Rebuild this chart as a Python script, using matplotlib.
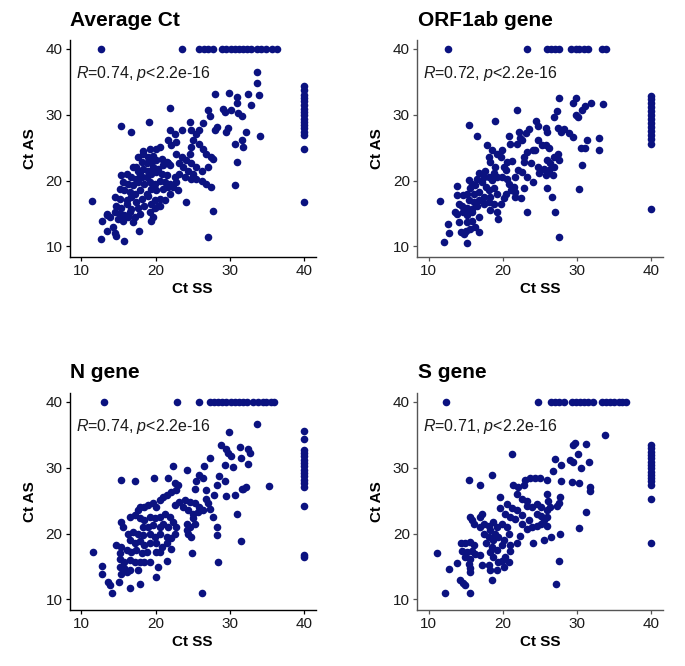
import numpy as np
import matplotlib.pyplot as plt

plt.rcParams['font.family'] = 'Liberation Sans'
plt.rcParams['mathtext.fontset'] = 'custom'
plt.rcParams['mathtext.rm'] = 'Liberation Sans'
plt.rcParams['mathtext.it'] = 'Liberation Sans:italic'

titles = ['Average Ct', 'ORF1ab gene', 'N gene', 'S gene']
r_values = ['0.74', '0.72', '0.74', '0.71']

# points with Ct AS = 40 (only Ct SS given)
avg_top = [12.6, 23.6, 25.9, 26.5, 27.1, 27.7, 29.0, 29.5, 30.1, 30.7, 31.2, 31.8, 32.3, 32.9, 33.6, 34.2, 34.9, 35.7, 36.4]
orf_top = [12.6, 23.2, 25.9, 26.5, 27.0, 27.6, 29.2, 29.8, 30.3, 30.9, 31.5, 33.3, 33.9]
n_top = [13.1, 22.9, 25.9, 27.3, 27.8, 28.4, 29.0, 29.5, 30.1, 30.7, 31.2, 31.8, 32.3, 33.1, 33.8, 34.4, 34.9, 35.5, 36.0]
s_top = [12.3, 24.8, 26.5, 27.0, 27.6, 28.2, 29.3, 29.8, 30.4, 31.0, 31.5, 32.1, 33.3, 33.9, 34.4, 35.0, 35.6, 36.1, 36.6]

# points with Ct SS = 40 (only Ct AS given)
avg_right = [34.4, 33.7, 33.0, 32.5, 32.0, 31.5, 30.9, 30.4, 29.9, 29.4, 28.9, 28.4, 27.9, 27.4, 26.9, 24.8, 16.7]
orf_right = [32.9, 32.3, 31.7, 31.1, 30.5, 29.9, 29.3, 28.7, 28.1, 27.5, 26.9, 26.3, 25.6, 15.7]
n_right = [35.5, 34.3, 32.7, 32.2, 31.7, 31.2, 30.7, 30.2, 29.7, 29.2, 28.7, 28.2, 27.7, 27.1, 24.2, 16.7, 16.4]
s_right = [33.5, 33.0, 32.4, 31.9, 31.4, 30.9, 30.4, 29.9, 29.4, 28.9, 28.4, 27.9, 27.3, 25.2, 18.6]

# (Ct SS, Ct AS) pairs
avg_pts = [
    (11.4, 16.9), (12.7, 11.1), (12.8, 13.8), (13.5, 15.0), (13.5, 12.4), (14.3, 12.9), (14.5, 12.1),
    (14.7, 11.6), (15.8, 10.9), (17.8, 12.4), (15.4, 28.3), (16.7, 27.4), (19.1, 28.9), (21.9, 31.0),
    (24.1, 16.8), (27.1, 11.5), (27.7, 15.4), (26.8, 19.5), (27.5, 19.0), (30.7, 19.4), (30.9, 22.8),
    (34.0, 26.8), (33.7, 36.5), (33.7, 34.8), (33.9, 33.0), (32.5, 33.1), (29.9, 33.3), (28.0, 33.1),
    (29.1, 30.9), (29.3, 30.4), (30.9, 32.7), (30.9, 31.7), (30.2, 30.7), (31.1, 30.2), (31.6, 29.8),
    (32.8, 31.5), (27.1, 30.7), (27.3, 29.8), (28.2, 28.2), (28.0, 27.6), (29.8, 27.9), (29.5, 27.4),
    (30.7, 25.6), (31.6, 26.1), (31.8, 25.1), (32.2, 27.4), (24.6, 28.9), (24.8, 27.6), (26.4, 28.7),
    (25.9, 27.6), (25.5, 27.1), (21.9, 27.6), (22.6, 27.1), (23.5, 27.7), (21.7, 26.1), (22.1, 25.4),
    (22.8, 25.9), (25.0, 26.1), (24.8, 25.1), (24.6, 24.1), (25.9, 25.6), (26.4, 24.8), (26.8, 24.1),
    (27.5, 23.6), (22.8, 24.1), (23.5, 23.6), (24.1, 23.1), (24.8, 22.6), (25.5, 22.0), (26.2, 21.5),
    (23.2, 22.6), (23.7, 22.0), (24.4, 21.5), (25.0, 21.0), (27.1, 22.0), (27.7, 23.3), (22.6, 20.5),
    (22.8, 19.8), (21.9, 22.3), (21.5, 22.8), (19.2, 24.8), (20.1, 24.8), (20.6, 25.1), (18.3, 24.1),
    (19.0, 23.6), (19.7, 23.8), (18.1, 22.8), (18.8, 22.6), (19.4, 22.8), (20.1, 23.1), (20.8, 23.3),
    (17.0, 22.0), (17.6, 21.5), (18.3, 21.8), (19.0, 21.5), (19.7, 22.0), (20.3, 21.8), (21.0, 22.3),
    (21.7, 22.6), (15.4, 20.8), (16.1, 21.0), (16.7, 20.5), (17.4, 20.3), (18.1, 20.5), (18.8, 20.5),
    (19.4, 21.0), (20.1, 21.3), (20.8, 21.0), (21.5, 20.8), (15.6, 19.8), (16.3, 19.5), (17.0, 19.3),
    (17.6, 19.8), (18.5, 19.5), (19.2, 19.8), (19.9, 19.5), (20.6, 20.0), (21.2, 19.8), (21.9, 19.5),
    (15.2, 18.7), (15.8, 18.5), (16.5, 18.2), (17.2, 18.0), (17.9, 18.5), (18.8, 18.0), (19.4, 18.7),
    (20.1, 18.5), (21.0, 18.7), (21.7, 19.0), (14.5, 17.5), (15.2, 17.2), (16.1, 17.0), (16.7, 17.5),
    (17.4, 16.7), (18.1, 17.2), (19.0, 17.7), (19.9, 17.0), (20.6, 17.2), (14.7, 16.2), (15.4, 15.9),
    (16.1, 16.5), (16.7, 15.7), (17.6, 15.9), (18.5, 16.2), (19.4, 16.5), (20.3, 16.2), (14.5, 15.2),
    (15.2, 14.9), (15.8, 14.7), (16.5, 15.2), (17.2, 14.4), (17.9, 14.9), (19.2, 15.2), (19.9, 15.9),
    (14.9, 14.2), (15.6, 13.9), (16.3, 14.4), (17.0, 13.7), (19.7, 14.4), (19.4, 13.9), (13.8, 14.4),
    (13.4, 14.7), (20.6, 16.2), (21.2, 17.0), (21.9, 18.0), (22.3, 19.0), (23.0, 18.5), (23.2, 21.0),
    (23.9, 20.5), (24.8, 20.3), (25.5, 20.3), (26.2, 20.0), (17.9, 21.0), (17.4, 22.0), (18.3, 24.5),
    (17.6, 23.6),
]

orf_pts = [
    (11.5, 16.9), (12.1, 10.7), (12.6, 13.4), (12.8, 12.0), (13.8, 19.2), (13.8, 14.9), (14.1, 13.7),
    (14.3, 12.2), (14.8, 11.9), (15.2, 10.6), (15.5, 28.5), (16.5, 26.8), (16.8, 12.2), (19.0, 29.1),
    (21.9, 30.7), (23.2, 15.2), (27.6, 11.5), (27.0, 15.2), (26.6, 17.5), (25.9, 18.8), (30.2, 18.7),
    (30.7, 22.4), (31.1, 25.0), (30.5, 25.0), (31.4, 26.1), (33.0, 26.4), (33.0, 24.7), (33.5, 31.6),
    (27.6, 32.6), (29.8, 32.6), (29.4, 31.7), (30.7, 30.7), (31.1, 31.3), (31.9, 31.7), (27.3, 30.5),
    (26.9, 29.7), (29.8, 30.0), (30.1, 29.6), (29.4, 26.6), (28.9, 27.2), (28.3, 27.8), (27.8, 27.4),
    (27.4, 28.0), (25.8, 27.9), (26.0, 27.4), (24.7, 28.3), (24.5, 29.0), (23.5, 27.8), (23.1, 27.2),
    (22.2, 27.4), (22.3, 26.4), (20.8, 26.7), (21.0, 25.6), (21.9, 25.6), (22.6, 26.1), (24.7, 26.1),
    (25.3, 25.4), (25.8, 25.4), (26.2, 24.9), (26.9, 23.6), (26.4, 22.6), (27.4, 24.1), (27.6, 23.1),
    (26.9, 22.1), (26.0, 23.1), (25.8, 20.8), (26.7, 20.8), (26.2, 21.6), (25.5, 21.8), (22.9, 23.6),
    (23.3, 24.4), (24.0, 24.6), (24.4, 24.6), (22.9, 22.8), (23.8, 22.6), (24.7, 22.1), (24.9, 21.1),
    (24.0, 19.8), (23.3, 20.6), (22.6, 21.3), (22.0, 21.6), (21.7, 20.6), (21.5, 19.0), (21.7, 18.3),
    (21.7, 17.5), (21.1, 18.5), (20.4, 18.0), (20.1, 17.3), (19.7, 16.5), (19.2, 15.2), (19.4, 14.2),
    (18.3, 15.5), (18.8, 16.5), (18.1, 16.8), (17.4, 16.5), (17.9, 25.4), (18.1, 23.6), (18.3, 22.8),
    (19.0, 22.1), (19.2, 20.6), (19.7, 23.6), (19.9, 24.6), (20.6, 22.8), (20.4, 21.6), (18.6, 24.6),
    (19.2, 24.1), (18.8, 21.1), (19.9, 20.6), (20.6, 20.3), (20.8, 19.5), (16.8, 21.1), (17.4, 20.6),
    (18.1, 20.6), (18.6, 20.1), (17.2, 19.8), (16.5, 20.3), (15.4, 20.1), (15.9, 19.5), (16.3, 19.3),
    (15.6, 18.8), (15.2, 18.0), (16.1, 18.0), (16.8, 18.3), (17.7, 19.0), (18.1, 18.5), (18.8, 18.8),
    (19.2, 18.0), (18.3, 17.5), (14.7, 17.8), (15.4, 17.0), (16.1, 16.8), (16.8, 17.0), (17.4, 17.5),
    (14.5, 16.2), (15.2, 15.9), (15.9, 15.7), (16.5, 16.2), (14.7, 15.2), (15.2, 14.7), (15.9, 15.2),
    (16.8, 14.5), (15.2, 13.7), (15.9, 13.9), (16.3, 12.9), (15.6, 12.7), (15.0, 12.4), (13.8, 17.8),
    (14.1, 16.5), (13.6, 15.2), (22.4, 17.3), (22.9, 18.8), (17.6, 21.5), (20.1, 22.1), (21.2, 23.0),
]

n_pts = [
    (11.5, 17.2), (12.8, 15.1), (12.8, 13.8), (13.6, 12.7), (13.8, 12.2), (14.1, 11.0), (15.1, 12.6),
    (16.5, 11.7), (17.9, 12.4), (20.1, 13.4), (26.3, 11.0), (28.4, 15.7), (24.9, 17.1), (31.5, 18.9),
    (31.0, 23.0), (15.3, 28.2), (17.2, 27.9), (19.8, 28.5), (22.3, 30.2), (24.2, 29.7), (26.5, 30.2),
    (27.3, 31.5), (28.8, 33.4), (29.9, 35.4), (33.7, 36.6), (35.3, 27.2), (29.5, 32.9), (29.8, 32.2),
    (30.2, 31.8), (31.3, 33.2), (31.5, 31.4), (32.5, 32.9), (32.7, 32.2), (32.5, 30.6), (30.4, 30.1),
    (29.3, 30.4), (28.6, 28.7), (29.3, 27.9), (29.5, 25.7), (30.7, 25.8), (31.8, 26.7), (32.2, 27.1),
    (31.6, 26.8), (28.2, 27.4), (25.9, 28.9), (26.4, 28.4), (25.5, 27.9), (25.3, 26.8), (26.8, 26.6),
    (27.9, 25.8), (26.8, 25.3), (21.7, 28.4), (22.6, 27.6), (23.0, 27.3), (22.8, 26.6), (22.1, 26.3),
    (21.5, 25.8), (22.6, 24.3), (23.2, 24.8), (23.9, 25.1), (24.6, 24.8), (25.3, 24.6), (25.9, 24.1),
    (23.7, 24.1), (24.4, 23.6), (25.0, 23.0), (25.7, 23.3), (26.4, 23.6), (27.1, 24.6), (27.3, 23.8),
    (27.7, 22.5), (25.0, 22.3), (25.3, 21.5), (24.6, 21.0), (24.4, 20.0), (24.8, 19.5), (28.2, 21.0),
    (28.2, 19.8), (21.0, 25.6), (20.6, 25.1), (20.1, 24.1), (19.7, 24.6), (19.0, 24.3), (18.5, 24.1),
    (17.9, 24.1), (17.6, 23.6), (19.2, 22.5), (19.9, 22.3), (20.6, 22.5), (21.2, 23.0), (21.9, 22.5),
    (22.3, 21.8), (22.8, 21.0), (21.7, 21.0), (21.0, 21.5), (15.4, 21.8), (15.6, 21.0), (16.5, 22.5),
    (17.2, 22.8), (17.9, 22.3), (18.5, 22.0), (18.3, 21.0), (19.0, 21.0), (19.7, 21.3), (20.6, 21.0),
    (16.3, 20.0), (17.0, 20.3), (17.6, 20.0), (18.3, 19.8), (19.2, 20.0), (19.9, 19.5), (20.6, 20.0),
    (21.5, 19.5), (22.1, 19.3), (22.6, 20.0), (16.5, 19.0), (17.2, 18.5), (17.9, 18.8), (18.5, 18.2),
    (19.2, 18.5), (20.1, 18.5), (20.8, 18.0), (21.5, 18.5), (22.1, 17.7), (14.7, 18.2), (15.4, 18.0),
    (16.1, 17.5), (16.7, 17.2), (17.4, 17.5), (18.1, 17.0), (18.8, 17.2), (20.1, 17.2), (15.2, 17.0),
    (15.2, 16.2), (15.8, 15.7), (16.5, 16.0), (17.2, 15.7), (17.9, 15.7), (18.5, 15.7), (19.2, 15.7),
    (21.5, 15.9), (20.6, 17.2), (15.2, 15.0), (15.8, 14.7), (16.5, 14.5), (15.4, 13.9), (16.1, 14.2),
    (17.6, 14.5), (20.3, 15.0), (24.2, 20.6), (24.2, 21.5),
]

s_pts = [
    (11.2, 17.0), (12.2, 11.0), (12.7, 14.6), (13.8, 15.5), (14.2, 12.9), (14.7, 12.5), (14.9, 12.2),
    (15.6, 11.0), (15.5, 28.1), (16.9, 27.4), (18.5, 28.9), (21.3, 32.1), (18.5, 13.0), (27.1, 12.4),
    (27.6, 15.8), (27.7, 20.0), (26.5, 19.5), (30.2, 20.8), (31.2, 23.3), (33.7, 35.0), (29.4, 33.5),
    (29.7, 33.8), (31.2, 33.6), (27.0, 31.3), (27.8, 30.4), (29.1, 31.1), (29.5, 30.8), (30.1, 32.1),
    (30.5, 29.9), (31.6, 30.8), (26.7, 29.5), (27.9, 28.0), (29.3, 27.8), (30.2, 27.6), (31.7, 27.1),
    (31.7, 26.4), (23.0, 28.1), (23.7, 28.5), (24.3, 28.4), (25.0, 28.4), (25.9, 28.2), (21.4, 27.3),
    (22.1, 27.0), (22.8, 27.3), (21.9, 26.0), (22.6, 25.2), (23.2, 25.0), (19.6, 25.5), (19.6, 23.9),
    (20.5, 24.5), (21.2, 23.9), (21.9, 23.5), (20.3, 23.0), (21.0, 22.5), (21.7, 22.2), (23.2, 24.2),
    (23.9, 24.0), (24.6, 24.5), (25.2, 24.0), (25.9, 23.5), (24.6, 23.0), (25.2, 22.7), (25.9, 22.5),
    (25.9, 26.0), (26.1, 25.0), (26.4, 24.0), (27.3, 24.2), (27.5, 24.7), (27.7, 25.5), (22.6, 21.5),
    (23.2, 20.7), (23.9, 21.0), (24.6, 21.2), (25.2, 21.5), (25.9, 21.2), (25.5, 22.0), (22.3, 19.7),
    (21.9, 18.5), (21.0, 18.2), (20.1, 19.0), (20.8, 20.0), (19.9, 21.5), (19.2, 21.0), (18.7, 21.7),
    (18.1, 21.2), (17.4, 21.5), (16.9, 21.0), (18.3, 20.5), (18.9, 20.0), (16.9, 22.5), (17.2, 22.9),
    (15.6, 22.5), (15.8, 22.0), (16.1, 21.4), (17.4, 20.0), (18.1, 19.5), (18.7, 19.0), (19.4, 19.5),
    (17.8, 18.5), (18.5, 18.0), (19.2, 17.5), (19.9, 18.2), (18.3, 17.2), (18.7, 16.4), (19.4, 15.7),
    (20.1, 14.9), (18.1, 15.2), (18.3, 14.4), (19.2, 14.4), (19.9, 15.9), (20.3, 16.4), (21.0, 17.4),
    (20.8, 15.7), (14.3, 18.5), (14.9, 18.5), (15.6, 18.7), (16.1, 18.2), (14.5, 17.4), (15.2, 17.2),
    (15.8, 17.4), (16.3, 16.9), (14.9, 16.4), (15.6, 16.2), (15.4, 15.4), (15.6, 14.7), (15.6, 14.2),
    (17.2, 15.2), (16.9, 16.7), (24.1, 18.5), (25.5, 19.0), (20.6, 21.0), (22.6, 22.8), (23.5, 22.0),
]

panels = [
    (avg_pts, avg_top, avg_right),
    (orf_pts, orf_top, orf_right),
    (n_pts, n_top, n_right),
    (s_pts, s_top, s_right),
]

W, H = 685, 666
fig = plt.figure(figsize=(W / 100, H / 100), dpi=100)

lefts = [69.5, 416.7]
tops = [39.5, 392.5]
aw, ah = 246.5, 217.5

for i, (pts, top, right) in enumerate(panels):
    col, row = i % 2, i // 2
    x0, y0 = lefts[col], tops[row]
    ax = fig.add_axes([x0 / W, 1 - (y0 + ah) / H, aw / W, ah / H])

    pts = np.array(pts)
    ss = np.concatenate([pts[:, 0], top, np.full(len(right), 40.0)])
    as_ = np.concatenate([pts[:, 1], np.full(len(top), 40.0), right])
    ax.scatter(ss, as_, s=30, color='#0b1280', linewidths=0, zorder=3)

    ax.set_xlim(8.4, 41.6)
    ax.set_ylim(8.4, 41.4)
    ax.set_xticks([10, 20, 30, 40])
    ax.set_yticks([10, 20, 30, 40])

    spine_col = 'black' if col == 0 else '#555555'
    for side in ['top', 'right']:
        ax.spines[side].set_visible(False)
    for side in ['left', 'bottom']:
        ax.spines[side].set_color(spine_col)
        ax.spines[side].set_linewidth(1.0)
    ax.tick_params(direction='out', length=3, width=0.9, color=spine_col,
                   labelsize=11, labelcolor='#1a1a1a', pad=2)

    ax.set_xlabel('Ct SS', fontsize=11, fontweight='bold', labelpad=3)
    ax.set_ylabel('Ct AS', fontsize=11, fontweight='bold', labelpad=6)

    ax.text(9.3, 36.2, r'$\it{R}$=' + r_values[i] + r', $\it{p}$<2.2e-16',
            fontsize=11.5, va='center', ha='left', color='#1a1a1a')

    fig.text((x0 + 1) / W, 1 - (y0 - 19.5) / H, titles[i], fontsize=15,
             fontweight='bold', ha='left', va='center')

fig.savefig('out.png', dpi=100)
